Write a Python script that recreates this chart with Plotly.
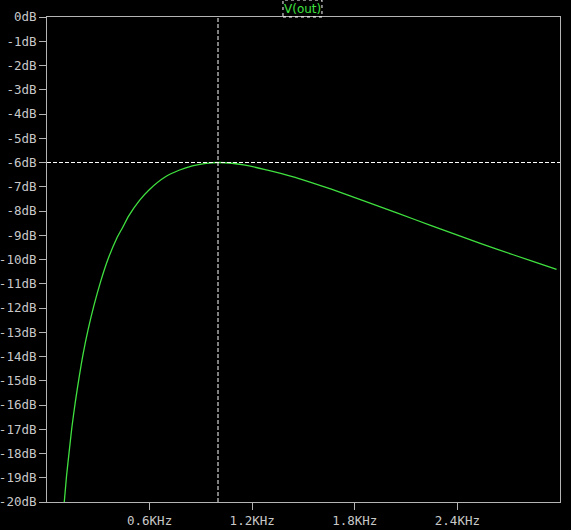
"""
LTspice-style AC sweep plot of V(out), magnitude in dB on a linear frequency axis.
"""
import plotly.graph_objects as go

COLORS = {
    "bg": "#000000",
    "axis": "#B4B4B4",
    "text": "#C8C8C8",
    "trace": "#3FE03F",
    "cursor": "#FFFFFF",
}

# values
freq_khz = [0.101, 0.114, 0.130, 0.145, 0.165, 0.188, 0.211, 0.240, 0.275, 0.314,
            0.356, 0.408, 0.443, 0.478, 0.54, 0.598, 0.695, 0.772, 0.85,
            0.93, 1.0, 1.082, 1.15, 1.276, 1.372, 1.469, 1.663, 1.857, 2.05,
            2.243, 2.437, 2.63, 2.824, 2.98]
mag_db = [-20.0, -18.95, -17.9, -16.95, -15.9, -14.85, -13.9, -12.9, -11.88, -10.9,
          -10.0, -9.12, -8.67, -8.2, -7.57, -7.12, -6.58, -6.32, -6.14,
          -6.04, -6.0, -6.03, -6.1, -6.29, -6.46, -6.65, -7.1, -7.59, -8.09,
          -8.59, -9.09, -9.57, -10.04, -10.41]

x_ticks = [0.6, 1.2, 1.8, 2.4]
x_labels = ["0.6KHz", "1.2KHz", "1.8KHz", "2.4KHz"]
y_ticks = list(range(-20, 1))
y_labels = [f"{v}dB" for v in y_ticks]

cursor_freq = 1.0
cursor_db = -6.0

fig = go.Figure()
fig.add_trace(
    go.Scatter(
        x=freq_khz,
        y=mag_db,
        mode="lines",
        name="V(out)",
        line=dict(color=COLORS["trace"], width=1.3, shape="spline", smoothing=0.6),
    )
)

# cursors
fig.add_vline(x=cursor_freq, line_dash="4px,2px", line_color=COLORS["cursor"], line_width=1)
fig.add_hline(y=cursor_db, line_dash="4px,2px", line_color=COLORS["cursor"], line_width=1)

# trace name label at the top, boxed with a dotted outline
fig.add_annotation(
    text="V(out)", xref="paper", yref="paper", x=0.498, y=1.0 + 8.5 / 485,
    yanchor="middle", showarrow=False,
    font=dict(family="DejaVu Sans", size=12, color=COLORS["trace"]),
)
fig.add_shape(
    type="rect", xref="paper", yref="paper", x0=0.498 - 0.038, x1=0.498 + 0.038,
    y0=1.0, y1=1.0 + 17 / 485, line=dict(color=COLORS["cursor"], width=1, dash="dot"),
)

axis_common = dict(
    showgrid=False,
    zeroline=False,
    showline=True,
    mirror=True,
    automargin=False,
    linecolor=COLORS["axis"],
    linewidth=1,
    ticks="outside",
    ticklen=7,
    tickcolor=COLORS["axis"],
    tickfont=dict(family="DejaVu Sans Mono", size=12.5, color=COLORS["text"]),
)

fig.update_layout(
    width=571,
    height=530,
    plot_bgcolor=COLORS["bg"],
    paper_bgcolor=COLORS["bg"],
    showlegend=False,
    margin=dict(l=47, r=11, t=17, b=28),
    xaxis=dict(range=[0, 3], tickmode="array", tickvals=x_ticks, ticktext=x_labels,
               **axis_common),
    yaxis=dict(range=[-20, 0], tickmode="array", tickvals=y_ticks, ticktext=y_labels,
               **axis_common),
)

fig.write_html(
    "out.html",
    config={"displayModeBar": False},
    post_script="document.body.style.margin='0';document.body.style.background='#000';",
)
